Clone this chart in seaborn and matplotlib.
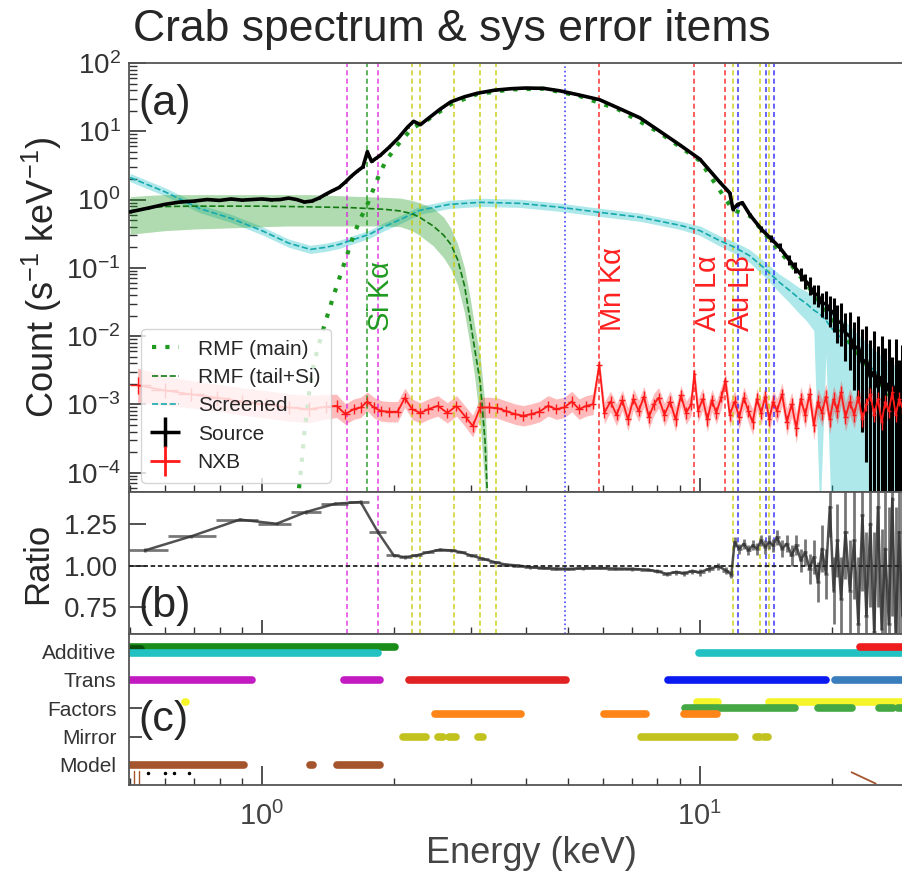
import numpy as np
import matplotlib
matplotlib.use("Agg")
import matplotlib.pyplot as plt
from matplotlib.lines import Line2D
from matplotlib.ticker import LogLocator, NullFormatter, FixedLocator
import seaborn as sns

# ---------------- data: panel (a) spectra ----------------
# source spectrum (counts s-1 keV-1)
src_e = [0.50, 0.55, 0.60, 0.65, 0.70, 0.75, 0.80, 0.85, 0.90, 0.95,
         1.00, 1.05, 1.10, 1.15, 1.20, 1.25, 1.30, 1.35, 1.40, 1.45,
         1.50, 1.55, 1.60, 1.65, 1.70, 1.74, 1.78, 1.82, 1.86, 1.95,
         2.05, 2.15, 2.22, 2.30, 2.40, 2.55, 2.70, 2.90, 3.10, 3.40,
         3.70, 4.00, 4.40, 4.80, 5.30, 5.90, 6.50, 7.30, 8.10, 9.00,
         10.0, 11.1, 11.7, 11.9, 12.2, 12.5, 13.0, 13.8, 14.5, 15.2,
         16.0, 16.5, 17.0, 17.4, 17.8, 18.2, 18.6, 19.0, 19.4, 19.8,
         20.2, 20.6, 21.0, 21.5, 22.0, 22.5, 23.0, 23.5, 24.0, 24.5,
         25.0, 25.5, 26.0, 26.5, 27.0, 27.5, 28.0, 28.5, 29.0, 29.4]
src_v = [0.66, 0.75, 0.85, 0.92, 0.95, 1.0, 0.97, 1.02, 0.98, 1.0,
         1.02, 0.99, 1.0, 1.05, 1.0, 0.92, 0.95, 1.05, 1.2, 1.35,
         1.5, 1.8, 2.2, 2.6, 3.0, 5.0, 3.6, 4.0, 4.4, 5.8,
         8.0, 11.5, 14.0, 12.5, 15.5, 21.0, 27.0, 32.0, 36.0, 40.0,
         42.0, 43.0, 42.5, 39.0, 34.0, 29.0, 22.0, 15.7, 10.0, 6.3,
         3.9, 1.8, 1.25, 0.72, 0.85, 0.9, 0.6, 0.37, 0.27, 0.2,
         0.13, 0.1, 0.08, 0.065, 0.055, 0.042, 0.04, 0.03, 0.03, 0.024,
         0.022, 0.016, 0.016, 0.011, 0.01, 0.0065, 0.007, 0.004, 0.0045, 0.0025,
         0.003, 0.0018, 0.0025, 0.0015, 0.002, 0.001, 0.0018, 0.0009, 0.0015, 0.001]
src_lo = [0.02, 0.015, 0.015, 0.015, 0.012, 0.012, 0.012, 0.012, 0.012, 0.012,
          0.012, 0.012, 0.012, 0.012, 0.012, 0.012, 0.012, 0.012, 0.012, 0.012,
          0.01, 0.01, 0.01, 0.01, 0.01, 0.02, 0.01, 0.01, 0.01, 0.01,
          0.008, 0.008, 0.008, 0.008, 0.008, 0.008, 0.008, 0.008, 0.008, 0.008,
          0.008, 0.008, 0.008, 0.008, 0.008, 0.008, 0.008, 0.008, 0.008, 0.008,
          0.012, 0.015, 0.02, 0.025, 0.025, 0.03, 0.03, 0.04, 0.05, 0.06,
          0.07, 0.08, 0.1, 0.12, 0.14, 0.16, 0.18, 0.2, 0.22, 0.25,
          0.28, 0.3, 0.35, 0.4, 0.5, 0.6, 0.8, 1.0, 1.5, 2.0,
          2.5, 3.0, 3.0, 3.0, 3.0, 3.0, 3.0, 3.0, 3.0, 3.0]
src_hi = [0.02, 0.015, 0.015, 0.015, 0.012, 0.012, 0.012, 0.012, 0.012, 0.012,
          0.012, 0.012, 0.012, 0.012, 0.012, 0.012, 0.012, 0.012, 0.012, 0.012,
          0.01, 0.01, 0.01, 0.01, 0.01, 0.02, 0.01, 0.01, 0.01, 0.01,
          0.008, 0.008, 0.008, 0.008, 0.008, 0.008, 0.008, 0.008, 0.008, 0.008,
          0.008, 0.008, 0.008, 0.008, 0.008, 0.008, 0.008, 0.008, 0.008, 0.008,
          0.012, 0.015, 0.02, 0.025, 0.025, 0.03, 0.03, 0.04, 0.05, 0.06,
          0.07, 0.08, 0.09, 0.1, 0.12, 0.13, 0.15, 0.16, 0.18, 0.2,
          0.22, 0.25, 0.28, 0.3, 0.35, 0.4, 0.45, 0.5, 0.5, 0.55,
          0.6, 0.6, 0.6, 0.65, 0.65, 0.7, 0.7, 0.7, 0.7, 0.7]

# screened (non X-ray) component
scr_e = [0.50, 0.60, 0.72, 0.85, 1.0, 1.15, 1.29, 1.40, 1.50, 1.62,
         1.76, 1.90, 2.07, 2.30, 2.68, 3.15, 3.88, 4.8, 5.9, 7.3,
         9.0, 10.0, 11.1, 12.0, 13.0, 14.0, 15.2, 16.0, 16.9, 17.5,
         18.2, 18.8, 19.4, 20.0, 20.8, 21.5, 22.3, 23.1, 24.0, 24.8,
         25.7, 26.5, 27.4, 28.3, 29.4]
scr_v = [2.1, 1.3, 0.74, 0.53, 0.35, 0.23, 0.186, 0.2, 0.22, 0.26,
         0.31, 0.40, 0.51, 0.70, 0.85, 0.91, 0.88, 0.77, 0.65, 0.55,
         0.42, 0.35, 0.25, 0.2, 0.15, 0.1, 0.061, 0.047, 0.035, 0.03,
         0.024, 0.021, 0.017, 0.013, 0.01, 0.0085, 0.0068, 0.005, 0.0041, 0.0033,
         0.0027, 0.0023, 0.002, 0.0018, 0.0016]
scr_lo = [0.06, 0.06, 0.06, 0.06, 0.06, 0.06, 0.06, 0.06, 0.06, 0.06,
          0.06, 0.06, 0.06, 0.06, 0.06, 0.06, 0.06, 0.06, 0.06, 0.06,
          0.06, 0.07, 0.08, 0.09, 0.1, 0.12, 0.15, 0.18, 0.22, 0.25,
          0.3, 3.0, 0.5, 3.0, 3.0, 3.0, 3.0, 3.0, 3.0, 3.0,
          3.0, 3.0, 3.0, 3.0, 3.0]
scr_hi = [0.06, 0.06, 0.06, 0.06, 0.06, 0.06, 0.06, 0.06, 0.06, 0.06,
          0.06, 0.06, 0.06, 0.06, 0.06, 0.06, 0.06, 0.06, 0.06, 0.06,
          0.06, 0.07, 0.07, 0.08, 0.09, 0.1, 0.12, 0.14, 0.16, 0.18,
          0.2, 0.22, 0.22, 0.25, 0.25, 0.28, 0.28, 0.3, 0.3, 0.3,
          0.3, 0.3, 0.3, 0.3, 0.3]

# RMF tail + Si component with band
tail_e = [0.50, 0.55, 0.60, 0.70, 0.80, 0.90, 1.0, 1.15, 1.30, 1.45,
          1.60, 1.90, 2.07, 2.20, 2.29, 2.46, 2.60, 2.70, 2.80, 2.90,
          2.98, 3.06, 3.15, 3.23, 3.27]
tail_v = [0.68, 0.76, 0.79, 0.8, 0.8, 0.8, 0.8, 0.79, 0.78, 0.77,
          0.76, 0.72, 0.68, 0.62, 0.55, 0.41, 0.3, 0.22, 0.13, 0.055,
          0.019, 0.0065, 0.0021, 3e-4, 5e-5]
tail_up = [1.1, 1.15, 1.18, 1.18, 1.18, 1.18, 1.18, 1.18, 1.18, 1.15,
           1.12, 1.08, 1.05, 0.97, 0.9, 0.75, 0.55, 0.38, 0.22, 0.1,
           0.04, 0.014, 0.005, 0.001, 2e-4]
tail_dn = [0.31, 0.33, 0.35, 0.37, 0.38, 0.39, 0.4, 0.41, 0.41, 0.41,
           0.41, 0.41, 0.40, 0.35, 0.3, 0.21, 0.14, 0.095, 0.055, 0.022,
           0.008, 0.0025, 5e-4, 6e-5, 1e-6]

# RMF main component
main_e = [1.215, 1.232, 1.247, 1.265, 1.287, 1.31, 1.345, 1.38, 1.417, 1.455,
          1.507, 1.561, 1.616, 1.674, 1.734, 1.795, 1.859, 1.926, 2.05, 2.2,
          2.4, 2.7, 3.1, 3.7, 4.4, 5.3, 6.5, 8.1, 10.0, 11.9,
          13.0, 14.5, 16.0, 17.8, 19.8, 21.9, 24.4, 27.0, 29.4]
main_v = [5.9e-5, 1.4e-4, 3.4e-4, 7.5e-4, 1.86e-3, 3.6e-3, 7.1e-3, 0.0126, 0.022, 0.038,
          0.075, 0.148, 0.29, 0.51, 0.8, 1.4, 2.46, 3.85, 6.5, 11.0,
          15.0, 25.0, 35.0, 41.0, 42.0, 33.0, 21.0, 9.5, 3.7, 0.7,
          0.58, 0.25, 0.12, 0.05, 0.02, 0.0085, 0.003, 0.0014, 8e-4]

# non X-ray background (units of 1e-3)
nxb_e = [0.52, 0.60, 0.69, 0.79, 0.90, 1.02, 1.15, 1.28, 1.40, 1.48,
         1.55, 1.62, 1.68, 1.74, 1.80, 1.87, 1.95, 2.04, 2.12, 2.20,
         2.30, 2.40, 2.52, 2.65, 2.78, 2.92, 3.03, 3.15, 3.30, 3.45,
         3.60, 3.78, 3.95, 4.12, 4.30, 4.50, 4.70, 4.90, 5.10, 5.30,
         5.50, 5.70, 5.89, 6.05, 6.25, 6.45, 6.65, 6.85, 7.05, 7.25,
         7.45, 7.65, 7.85, 8.05, 8.30, 8.55, 8.80, 9.05, 9.30, 9.55,
         9.71, 9.90, 10.15, 10.4, 10.65, 10.9, 11.2, 11.44, 11.7, 12.0,
         12.3, 12.6, 12.9, 13.2, 13.5, 13.8, 14.1, 14.4, 14.7, 15.0,
         15.4, 15.8, 16.2, 16.6, 17.0, 17.4, 17.8, 18.2, 18.6, 19.0,
         19.4, 19.8, 20.2, 20.6, 21.0, 21.5, 22.0, 22.5, 23.0, 23.5,
         24.0, 24.5, 25.0, 25.5, 26.0, 26.5, 27.0, 27.5, 28.0, 28.5,
         29.0, 29.4]
nxb_v = [1.9, 1.6, 1.4, 1.25, 1.1, 1.0, 0.9, 0.85, 0.92, 0.95,
         0.72, 0.85, 0.9, 1.1, 0.9, 0.8, 0.78, 0.78, 1.25, 0.85,
         0.75, 0.85, 0.95, 0.75, 0.95, 0.65, 0.48, 0.9, 0.9, 0.88,
         0.8, 0.72, 0.68, 0.72, 0.78, 0.95, 0.85, 0.9, 1.1, 0.85,
         0.95, 1.0, 3.8, 0.75, 1.1, 0.7, 1.15, 0.6, 1.2, 0.8,
         1.3, 0.65, 1.0, 1.25, 0.7, 1.1, 0.6, 1.35, 0.75, 1.0,
         2.8, 0.8, 1.2, 0.6, 1.15, 0.75, 1.3, 2.2, 0.7, 1.1,
         0.65, 1.25, 0.8, 0.55, 1.2, 0.75, 1.3, 0.6, 1.1, 0.8,
         1.4, 0.55, 1.0, 0.45, 1.2, 0.7, 1.4, 0.5, 1.1, 0.75,
         1.3, 0.6, 1.2, 0.8, 1.5, 0.65, 1.1, 0.7, 1.3, 0.6,
         1.0, 1.4, 0.7, 1.2, 0.55, 1.1, 0.8, 1.5, 0.7, 1.2,
         0.9, 1.0]
nxb_err = [0.25, 0.22, 0.2, 0.2, 0.2, 0.2, 0.2, 0.2, 0.18, 0.17,
           0.15, 0.15, 0.15, 0.14, 0.15, 0.15, 0.15, 0.15, 0.14, 0.15,
           0.15, 0.15, 0.15, 0.15, 0.15, 0.15, 0.16, 0.15, 0.15, 0.15,
           0.15, 0.15, 0.15, 0.15, 0.15, 0.15, 0.15, 0.15, 0.15, 0.15,
           0.15, 0.15, 0.1, 0.16, 0.15, 0.16, 0.15, 0.17, 0.15, 0.16,
           0.15, 0.17, 0.16, 0.15, 0.17, 0.16, 0.18, 0.15, 0.17, 0.16,
           0.12, 0.17, 0.16, 0.18, 0.16, 0.17, 0.16, 0.12, 0.18, 0.16,
           0.18, 0.16, 0.17, 0.19, 0.16, 0.18, 0.16, 0.19, 0.17, 0.18,
           0.17, 0.2, 0.18, 0.22, 0.18, 0.2, 0.18, 0.22, 0.19, 0.2,
           0.19, 0.21, 0.19, 0.2, 0.18, 0.21, 0.19, 0.2, 0.19, 0.21,
           0.2, 0.19, 0.21, 0.2, 0.22, 0.2, 0.21, 0.19, 0.21, 0.2,
           0.2, 0.2]

# ---------------- data: panel (b) ratio ----------------
ratio_e = [0.54, 0.69, 0.89, 1.08, 1.26, 1.47, 1.68, 1.84, 2.0, 2.12,
           2.25, 2.4, 2.55, 2.7, 2.85, 3.0, 3.2, 3.4, 3.6, 3.85,
           4.1, 4.4, 4.7, 5.0, 5.4, 5.9, 6.4, 7.0, 7.6, 8.0,
           8.4, 8.8, 9.2, 9.6, 10.0, 10.5, 11.0, 11.5, 11.8, 12.0,
           12.3, 12.6, 12.9, 13.2, 13.5, 13.8, 14.1, 14.4, 14.7, 15.0,
           15.4, 15.8, 16.2, 16.6, 17.0, 17.4, 17.8, 18.2, 18.6, 19.0,
           19.4, 19.8, 20.2, 20.6, 21.0, 21.5, 22.0, 22.5, 23.0, 23.5,
           24.0, 24.5, 25.0, 25.5, 26.0, 26.5, 27.0, 27.5, 28.0, 28.5,
           29.0, 29.4]
ratio_v = [1.09, 1.175, 1.275, 1.25, 1.32, 1.37, 1.38, 1.20, 1.06, 1.05,
           1.06, 1.08, 1.095, 1.09, 1.08, 1.06, 1.04, 1.02, 1.006, 1.0,
           0.99, 0.985, 0.982, 0.98, 0.983, 0.985, 0.982, 0.98, 0.975, 0.965,
           0.95, 0.96, 0.955, 0.965, 0.96, 0.98, 0.995, 0.97, 0.945, 1.14,
           1.10, 1.13, 1.09, 1.12, 1.10, 1.15, 1.11, 1.14, 1.12, 1.17,
           1.10, 1.13, 1.06, 1.12, 1.03, 1.08, 0.98, 1.05, 0.90, 1.10,
           0.95, 1.35, 0.85, 1.15, 0.80, 1.20, 0.85, 1.15, 0.65, 1.30,
           0.70, 1.25, 0.60, 1.35, 0.62, 1.10, 0.65, 1.40, 0.55, 1.20,
           0.70, 1.0]
ratio_err = [0.012, 0.01, 0.01, 0.01, 0.01, 0.01, 0.01, 0.012, 0.01, 0.01,
             0.008, 0.008, 0.008, 0.008, 0.008, 0.008, 0.008, 0.008, 0.008, 0.008,
             0.008, 0.008, 0.008, 0.008, 0.008, 0.008, 0.01, 0.01, 0.01, 0.012,
             0.012, 0.015, 0.015, 0.015, 0.02, 0.02, 0.02, 0.02, 0.02, 0.03,
             0.03, 0.03, 0.03, 0.03, 0.035, 0.035, 0.04, 0.04, 0.04, 0.045,
             0.05, 0.05, 0.06, 0.06, 0.07, 0.08, 0.09, 0.1, 0.12, 0.14,
             0.15, 0.18, 0.2, 0.22, 0.25, 0.28, 0.3, 0.35, 0.4, 0.45,
             0.5, 0.5, 0.6, 0.6, 0.6, 0.7, 0.7, 0.7, 0.8, 0.8,
             0.8, 0.8]

# ---------------- line / edge energies (keV) ----------------
emission_e = [1.74, 5.895, 9.71, 11.44]
emission_c = ["#1f9a1f", "#ff2020", "#ff2020", "#ff2020"]
emission_lab = [r"Si K$\alpha$", r"Mn K$\alpha$", r"Au L$\alpha$", r"Au L$\beta$"]
edge_e = [1.56, 1.84, 2.206, 2.291, 2.743, 3.148, 3.425, 4.92,
          11.92, 12.25, 13.73, 14.15, 14.35, 14.78]
edge_kind = ["Al/Si", "Al/Si", "Au M", "Au M", "Au M", "Au M", "Au M", "other",
             "Au L", "other", "Au L", "other", "Au L", "other"]

# ---------------- data: panel (c) systematic items ----------------
categories = ["Additive", "Trans", "Factors", "Mirror", "Model"]
additive_green = [(0.497, 2.01)]
additive_dark = [(0.497, 0.53)]
additive_cyan = [(0.497, 1.84), (9.96, 29.4)]
additive_red = [(23.2, 29.4)]
trans_magenta = [(0.497, 0.947), (1.54, 1.86)]
trans_red = [(2.17, 4.95)]
trans_blue = [(8.45, 19.4)]
trans_steel = [(20.4, 29.4)]
factors_yellow = [(0.668, 0.672), (9.84, 11.0), (14.4, 29.4)]
factors_green = [(9.26, 16.5), (18.6, 22.2), (25.6, 27.6), (28.3, 29.4)]
factors_orange = [(2.48, 3.9), (6.03, 7.55), (9.2, 10.95)]
mirror_olive = [(2.1, 2.37), (2.52, 2.59), (2.68, 2.78), (3.11, 3.19),
                (7.35, 12.0), (13.4, 13.7), (14.0, 14.3)]
model_brown = [(0.497, 0.91), (1.29, 1.31), (1.48, 1.86)]

# ---------------- style ----------------
sns.set_theme(style="ticks", color_codes=False)
plt.rcParams["font.family"] = ["Liberation Sans", "DejaVu Sans"]
plt.rcParams["mathtext.default"] = "regular"
plt.rcParams["axes.edgecolor"] = "#555555"
plt.rcParams["axes.linewidth"] = 1.3
plt.rcParams["xtick.direction"] = "in"
plt.rcParams["ytick.direction"] = "in"
plt.rcParams["xtick.color"] = "#333333"
plt.rcParams["ytick.color"] = "#333333"

GREEN = "#1f9a1f"
CYAN = "#17bfc4"
EDGE_COLORS = {"Al/Si": "#dd22dd", "Au M": "#c8c800", "Au L": "#c8c800",
               "other": "#1a1aff"}

fig = plt.figure(figsize=(9.03, 8.74), dpi=100)
L, W = 129 / 903, 776 / 903
ax_a = fig.add_axes([L, 1 - 492 / 874, W, 429 / 874])
ax_b = fig.add_axes([L, 1 - 634 / 874, W, 142 / 874], sharex=ax_a)
ax_c = fig.add_axes([L, 1 - 785 / 874, W, 151 / 874], sharex=ax_a)

for ax in (ax_a, ax_b, ax_c):
    ax.set_xscale("log")
    ax.spines["right"].set_visible(False)
    ax.tick_params(axis="x", which="major", length=10, width=1.2)
    ax.tick_params(axis="x", which="minor", length=5, width=1.0)
ax_a.set_xlim(0.497, 29.4)

# ---------------- panel (a) ----------------
ax_a.set_yscale("log")
ax_a.set_ylim(5.2e-5, 100)

src_e_a = np.array(src_e)
src_v_a = np.array(src_v)
src_dn = src_v_a * (1 - 10 ** -np.array(src_lo))
src_up = src_v_a * (10 ** np.array(src_hi) - 1)

v = np.array(scr_v)
ax_a.fill_between(scr_e, v / 10 ** np.array(scr_lo), v * 10 ** np.array(scr_hi),
                  color=CYAN, alpha=0.35, lw=0, zorder=1)
ax_a.fill_between(tail_e, tail_dn, tail_up, color=GREEN, alpha=0.35, lw=0, zorder=1)
nv = np.array(nxb_v) * 1e-3
ne = np.array(nxb_err)
ax_a.fill_between(nxb_e, nv / 10 ** ne, nv * 10 ** ne, color="#ff2020", alpha=0.3,
                  lw=0, zorder=1)

for e, k in zip(edge_e, edge_kind):
    c = EDGE_COLORS[k]
    ls = ":" if k == "other" and e < 10 else (0, (3, 2))
    for ax in (ax_a, ax_b):
        ax.axvline(e, color=c, ls=ls, lw=1.2, alpha=0.8, zorder=1.5)
for e, c, lab in zip(emission_e, emission_c, emission_lab):
    ax_a.axvline(e, color=c, ls=(0, (3, 2)), lw=1.2, alpha=0.85, zorder=1.5)
    ax_a.text(e, 0.0115, lab, color=c, rotation=90, ha="left", va="bottom",
              fontsize=21, zorder=4)

sns.lineplot(x=scr_e, y=scr_v, ax=ax_a, color="#16a9ad", ls="--", lw=1.2,
             estimator=None, sort=False, zorder=2)
sns.lineplot(x=tail_e, y=tail_v, ax=ax_a, color="#137a13", ls="--", lw=1.2,
             estimator=None, sort=False, zorder=2)
sns.lineplot(x=main_e, y=main_v, ax=ax_a, color=GREEN, ls=(0, (1, 2.2)), lw=3,
             estimator=None, sort=False, zorder=2)

nxb_edges = np.sqrt(np.array(nxb_e[:-1]) * np.array(nxb_e[1:]))
nxb_xlo = np.array(nxb_e) - np.concatenate([[0.5], nxb_edges])
nxb_xhi = np.concatenate([nxb_edges, [29.6]]) - np.array(nxb_e)
ax_a.errorbar(nxb_e, nv, yerr=[nv - nv / 10 ** (ne * 0.5), nv * 10 ** (ne * 0.5) - nv],
              xerr=[nxb_xlo, nxb_xhi], fmt="-", color="#ff1a1a", lw=1.3,
              elinewidth=1.0, capsize=0, zorder=3)

ax_a.errorbar(src_e_a, src_v_a, yerr=[src_dn, src_up], fmt="-", color="black",
              lw=2.6, elinewidth=2.2, capsize=0, zorder=2.5)

ax_a.yaxis.set_major_locator(LogLocator(base=10, numticks=10))
ax_a.yaxis.set_minor_locator(LogLocator(base=10, subs=np.arange(2, 10), numticks=20))
ax_a.yaxis.set_minor_formatter(NullFormatter())
ax_a.tick_params(axis="y", which="major", length=12, width=1.2, labelsize=20, pad=6)
ax_a.tick_params(axis="y", which="minor", length=6, width=1.0)
ax_a.tick_params(axis="x", labelbottom=False)
ax_a.set_ylabel(r"Count (s$^{-1}$ keV$^{-1}$)", fontsize=26)
ax_a.yaxis.set_label_coords(-0.084, 0.5)
ax_a.text(0.012, 0.905, "(a)", transform=ax_a.transAxes, fontsize=31,
          ha="left", va="center")

handles = [
    Line2D([], [], color=GREEN, ls=(0, (1, 2.2)), lw=3),
    Line2D([], [], color="#137a13", ls="--", lw=1.2),
    Line2D([], [], color="#16a9ad", ls="--", lw=1.2),
    Line2D([], [], color="black", marker="+", ms=22, mew=2.5, ls="none"),
    Line2D([], [], color="#ff1a1a", marker="+", ms=22, mew=2.0, ls="none"),
]
labels = ["RMF (main)", "RMF (tail+Si)", "Screened", "Source", "NXB"]
leg = ax_a.legend(handles, labels, loc="lower left", bbox_to_anchor=(0.016, 0.022),
                  borderaxespad=0, fontsize=15, handlelength=1.3, handletextpad=0.9,
                  labelspacing=0.45, frameon=True, framealpha=0.8,
                  edgecolor="#cccccc", fancybox=True, borderpad=0.5)
leg.set_zorder(5)

# ---------------- panel (b) ----------------
r_e = np.array(ratio_e)
r_edges = np.sqrt(r_e[:-1] * r_e[1:])
r_xlo = r_e - np.concatenate([[0.497], r_edges])
r_xhi = np.concatenate([r_edges, [29.6]]) - r_e
ax_b.errorbar(ratio_e, ratio_v, yerr=ratio_err, xerr=[r_xlo, r_xhi], fmt="none",
              ecolor="#555555", elinewidth=2.0, alpha=0.8, capsize=0, zorder=2)
sns.lineplot(x=ratio_e, y=ratio_v, ax=ax_b, color="#333333", lw=1.8, alpha=0.85,
             estimator=None, sort=False, zorder=3)
ax_b.axhline(1.0, color="#222222", ls=(0, (2.5, 1.5)), lw=1.3, zorder=3)
ax_b.set_ylim(0.59, 1.44)
ax_b.set_yticks([0.75, 1.00, 1.25])
ax_b.set_yticklabels(["0.75", "1.00", "1.25"])
ax_b.tick_params(axis="y", which="major", length=12, width=1.2, labelsize=20, pad=8)
ax_b.tick_params(axis="x", labelbottom=False)
ax_b.set_ylabel("Ratio", fontsize=25)
ax_b.yaxis.set_label_coords(-0.096, 0.5)
ax_b.text(0.012, 0.2, "(b)", transform=ax_b.transAxes, fontsize=31,
          ha="left", va="center")

# ---------------- panel (c) ----------------
groups = [
    (additive_green, 0, -0.18, "#1a8c1a"),
    (additive_dark, 0, -0.1, "#0b4f0b"),
    (additive_cyan, 0, 0.06, "#22c2c2"),
    (additive_red, 0, -0.18, "#ee1c1c"),
    (trans_magenta, 1, 0.0, "#c21bc2"),
    (trans_red, 1, 0.0, "#e02222"),
    (trans_blue, 1, 0.0, "#0b1af0"),
    (trans_steel, 1, 0.0, "#3a7dbd"),
    (factors_yellow, 2, -0.21, "#f5f52a"),
    (factors_green, 2, 0.0, "#45a845"),
    (factors_orange, 2, 0.19, "#ff8518"),
    (mirror_olive, 3, 0.0, "#c2c21e"),
    (model_brown, 4, 0.0, "#a5552d"),
]
for segs, row, off, col in groups:
    for e0, e1 in segs:
        ax_c.plot([e0, e1], [row + off, row + off], color=col, lw=5.5,
                  solid_capstyle="round")
ax_c.plot([22.2, 25.2], [4.26, 4.66], color="#a5552d", lw=1.3)
ax_c.plot([0.51, 0.51], [4.22, 4.7], color="#a5552d", lw=1.0)
ax_c.plot([0.525, 0.525], [4.22, 4.7], color="#a5552d", lw=1.0)
ax_c.plot([0.55, 0.6, 0.63, 0.68], [4.28, 4.28, 4.3, 4.3], ls="none",
          marker=".", ms=3, color="black")

ax_c.set_ylim(4.71, -0.625)
ax_c.yaxis.set_major_locator(FixedLocator(range(len(categories))))
ax_c.set_yticklabels(categories)
ax_c.tick_params(axis="y", which="major", length=9, width=1.2, labelsize=15, pad=9,
                 labelcolor="#333333")
ax_c.tick_params(axis="x", which="major", length=14, labelsize=21, pad=12,
                 labelcolor="#444444")
ax_c.xaxis.set_minor_formatter(NullFormatter())
ax_c.set_xlabel("Energy (keV)", fontsize=26, color="#444444")
ax_c.xaxis.set_label_coords(0.519, -0.335)
ax_c.text(0.012, 0.43, "(c)", transform=ax_c.transAxes, fontsize=31,
          ha="left", va="center")

fig.text(0.5, 0.966, "Crab spectrum & sys error items", ha="center", va="center",
         fontsize=32)

fig.savefig("out.png", dpi=100)
